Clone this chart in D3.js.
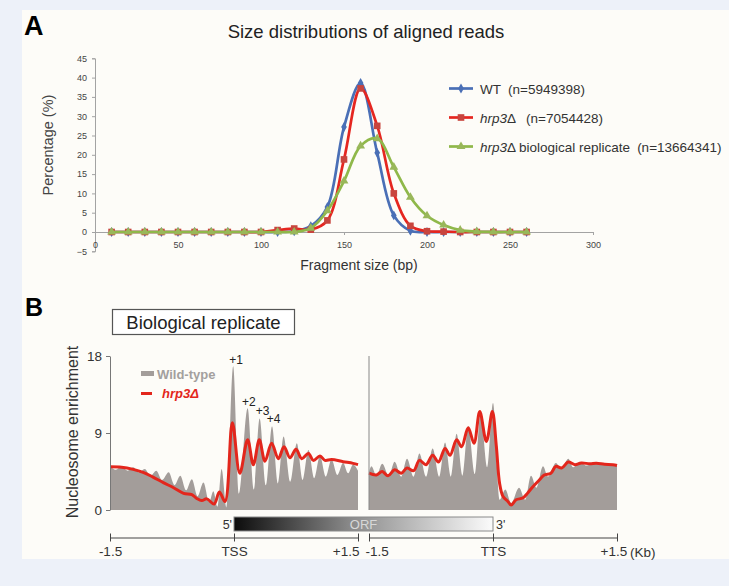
<!DOCTYPE html>
<html>
<head>
<meta charset="utf-8">
<script src="https://cdn.jsdelivr.net/npm/d3@7"></script>
<style>
html, body { margin: 0; padding: 0; background: #edf1f9; }
svg { display: block; font-family: "Liberation Sans", Arial, sans-serif; }
</style>
</head>
<body>
<svg id="fig" width="729" height="586"></svg>
<script>
// ---- panel A: size distributions (10 bp bins) ----
var fragSizes = [10,20,30,40,50,60,70,80,90,100,110,120,130,140,150,160,170,180,190,200,210,220,230,240,250,260];
var wtPct  = [0,0,0,0,0,0,0,0,0,0,0,0.2,1.5,6.5,27.2,38.6,20.5,4.3,0.3,0,0,0,0,0,0,0];
var hrpPct = [0,0,0,0,0,0,0,0,0,0,0.5,0.9,0.6,3.0,18.8,37.2,27.5,10.0,1.6,0.2,0.1,0,0,0,0,0];
var repPct = [0,0,0,0,0,0,0,0,0,0,0,0,1.0,5.5,13.2,22.3,24.2,16.8,9.0,4.2,1.8,0.5,0.1,0,0,0];
var seriesNames  = ['WT', 'hrp3', 'hrp3'];
var seriesSuffix = ['', '\u0394', '\u0394 biological replicate'];
var seriesCounts = ['(n=5949398)', '(n=7054428)', '(n=13664341)'];
var xTicksA = [0,50,100,150,200,250,300];
var yTicksA = [-5,0,5,10,15,20,25,30,35,40,45];

// ---- panel B: nucleosome profiles, kb around TSS / TTS ----
var wtTssKb  = [-1.5,-1.43,-1.36,-1.29,-1.22,-1.15,-1.08,-1.01,-0.94,-0.87,-0.79,-0.72,-0.65,-0.58,-0.51,-0.44,-0.37,-0.3,-0.25,-0.2,-0.15,-0.09,-0.01,0.06,0.165,0.24,0.31,0.385,0.46,0.53,0.6,0.68,0.76,0.83,0.9,0.97,1.04,1.11,1.18,1.25,1.32,1.38,1.44,1.5];
var wtTssVal = [5.1,4.7,5.1,4.6,5.0,4.4,4.8,4.0,4.6,3.5,4.4,2.9,4.0,2.3,3.6,1.6,3.2,0.9,2.2,0.4,4.8,0.3,16.8,1.9,11.9,2.4,10.7,2.9,9.8,3.1,8.6,3.3,7.8,3.5,7.0,3.7,6.3,3.9,5.9,4.1,5.5,4.3,5.3,4.6];
var mutTssKb  = [-1.5,-1.36,-1.22,-1.1,-0.98,-0.855,-0.73,-0.61,-0.51,-0.45,-0.39,-0.33,-0.24,-0.177,-0.109,-0.02,0.07,0.165,0.234,0.306,0.375,0.455,0.536,0.605,0.677,0.75,0.82,0.9,0.96,1.04,1.1,1.18,1.32,1.44,1.5];
var mutTssVal = [5.05,5.0,4.75,4.4,3.85,3.2,2.6,1.95,1.8,1.35,1.1,1.3,0.7,2.1,1.0,10.2,4.3,8.2,5.3,8.2,5.7,7.8,6.0,7.4,6.1,7.1,6.0,6.6,5.8,6.3,5.8,5.9,5.65,5.45,5.3];
var wtTtsKb  = [-1.5,-1.47,-1.41,-1.34,-1.26,-1.19,-1.11,-1.04,-0.96,-0.89,-0.81,-0.73,-0.65,-0.58,-0.51,-0.44,-0.37,-0.3,-0.22,-0.15,-0.07,0,0.08,0.15,0.22,0.315,0.39,0.46,0.525,0.605,0.665,0.76,0.83,0.91,0.97,1.05,1.13,1.21,1.29,1.37,1.44,1.5];
var wtTtsVal = [4.4,5.1,4.0,5.4,4.0,5.65,3.9,6.0,3.9,6.6,3.9,7.2,3.9,7.9,3.9,8.9,4.0,9.8,4.2,11.4,5.0,12.5,1.2,2.4,0.8,2.6,1.2,4.0,2.6,5.1,3.9,5.5,4.8,6.0,5.0,5.65,5.2,5.5,5.3,5.5,5.3,5.2];
var mutTtsKb  = [-1.5,-1.41,-1.34,-1.27,-1.19,-1.11,-1.04,-0.96,-0.89,-0.81,-0.73,-0.66,-0.58,-0.52,-0.44,-0.38,-0.3,-0.23,-0.16,-0.08,-0.008,0.04,0.08,0.12,0.18,0.22,0.28,0.36,0.42,0.48,0.56,0.62,0.7,0.76,0.83,0.91,0.99,1.07,1.17,1.25,1.35,1.45,1.5];
var mutTtsVal = [4.3,4.1,4.5,4.0,4.7,4.3,4.9,4.6,5.8,5.3,6.4,5.6,7.2,6.4,8.2,7.4,9.6,7.8,11.5,8.0,11.5,7.5,3.1,1.6,1.0,0.58,1.2,1.4,2.0,2.7,3.5,4.1,4.3,5.1,4.9,5.6,5.3,5.5,5.4,5.45,5.35,5.3,5.2];
var peakLabels = ['+1','+2','+3','+4'];
var peakKb     = [0.024,0.18,0.345,0.48];
var peakVal    = [17.06,12.15,11.1,10.17];
var yTicksB = [0,9,18];
var kbTicks = [-1.5,0,1.5];
var tssTickLabels = ['-1.5','TSS','+1.5'];
var ttsTickLabels = ['-1.5','TTS','+1.5'];

var svg = d3.select('#fig');
svg.append('rect').attr('width',729).attr('height',586).attr('fill','#edf1f9');
svg.append('rect').attr('x',22).attr('y',10).attr('width',707).attr('height',549).attr('fill','#fdfcf8');

// ================= panel A =================
var xA = d3.scaleLinear().domain([0,300]).range([95,593]);
var yA = d3.scaleLinear().domain([-5,45]).range([251.3,58.3]);

svg.append('text').attr('x',24).attr('y',35).attr('font-size',27).attr('font-weight','bold').text('A');
svg.append('text').attr('x',366).attr('y',38).attr('text-anchor','middle').attr('font-size',18.5).attr('fill','#222')
  .text('Size distributions of aligned reads');

var gy = svg.append('g').attr('transform','translate(' + xA(0) + ',0)')
  .call(d3.axisLeft(yA).tickValues(yTicksA).tickSize(3).tickPadding(5));
var gx = svg.append('g').attr('transform','translate(0,' + yA(0) + ')')
  .call(d3.axisBottom(xA).tickValues(xTicksA).tickSize(3).tickPadding(7));
[gy, gx].forEach(function (g) {
  g.selectAll('path,line').attr('stroke','#a3a3a3');
  g.selectAll('text').attr('fill','#444').attr('font-size',9).attr('font-family','"Liberation Sans", Arial, sans-serif');
});

svg.append('text').attr('transform','translate(53,145) rotate(-90)').attr('text-anchor','middle')
  .attr('font-size',14.5).attr('fill','#444').text('Percentage (%)');
svg.append('text').attr('x',359).attr('y',270).attr('text-anchor','middle')
  .attr('font-size',14).attr('fill','#333').text('Fragment size (bp)');

var seriesA = [
  { vals: wtPct,  line: '#4a6fb6', mark: '#4a6fb6', sym: d3.symbolDiamond,  size: 28 },
  { vals: hrpPct, line: '#e52620', mark: '#c8453e', sym: d3.symbolSquare,   size: 44 },
  { vals: repPct, line: '#8fb84a', mark: '#99b75a', sym: d3.symbolTriangle, size: 34 }
];
var lineA = d3.line().x(function (d) { return xA(d[0]); }).y(function (d) { return yA(d[1]); })
  .curve(d3.curveCatmullRom.alpha(0.5));

seriesA.forEach(function (s) {
  var pts = fragSizes.map(function (f, i) { return [f, s.vals[i]]; });
  svg.append('path').datum(pts).attr('d',lineA).attr('fill','none')
    .attr('stroke',s.line).attr('stroke-width',2.7);
  svg.append('g').selectAll('path').data(pts).join('path')
    .attr('transform', function (d) { return 'translate(' + xA(d[0]) + ',' + yA(d[1]) + ')'; })
    .attr('d', d3.symbol().type(s.sym).size(s.size))
    .attr('fill', s.mark);
});

// legend A
seriesA.forEach(function (s, i) {
  var ly = 88.5 + i * 29;
  svg.append('line').attr('x1',449).attr('x2',473).attr('y1',ly).attr('y2',ly)
    .attr('stroke',s.line).attr('stroke-width',2.7);
  svg.append('path').attr('transform','translate(461,' + ly + ')')
    .attr('d', d3.symbol().type(s.sym).size(s.size)).attr('fill', s.mark);
  var t = svg.append('text').attr('x',480).attr('y',ly + 5).attr('font-size',13.5).attr('fill','#333');
  t.append('tspan').attr('font-style', i === 0 ? 'normal' : 'italic').text(seriesNames[i]);
  t.append('tspan').text(seriesSuffix[i]);
  t.append('tspan').attr('dx', i === 1 ? 10 : 7).text(seriesCounts[i]);
});

// ================= panel B =================
var yB = d3.scaleLinear().domain([0,18]).range([510,356]);
var xL = d3.scaleLinear().domain([-1.5,1.5]).range([110,358]);
var xR = d3.scaleLinear().domain([-1.5,1.5]).range([369,617]);

svg.append('text').attr('x',25).attr('y',316).attr('font-size',25).attr('font-weight','bold').text('B');
svg.append('rect').attr('x',112.5).attr('y',309.5).attr('width',182).attr('height',25)
  .attr('fill','#fff').attr('stroke','#555').attr('stroke-width',1.2);
svg.append('text').attr('x',203.5).attr('y',329).attr('text-anchor','middle').attr('font-size',18.5)
  .attr('fill','#222').text('Biological replicate');

function drawProfile(xs, wtKb, wtVal, mutKb, mutVal) {
  var area = d3.area().x(function (d) { return xs(d[0]); })
    .y0(yB(0)).y1(function (d) { return yB(d[1]); }).curve(d3.curveMonotoneX);
  var line = d3.line().x(function (d) { return xs(d[0]); })
    .y(function (d) { return yB(d[1]); }).curve(d3.curveCatmullRom.alpha(0.5));
  svg.append('path').datum(wtKb.map(function (k, i) { return [k, wtVal[i]]; }))
    .attr('d', area).attr('fill','#a39d9a');
  svg.append('path').datum(mutKb.map(function (k, i) { return [k, mutVal[i]]; }))
    .attr('d', line).attr('fill','none').attr('stroke','#e3261c').attr('stroke-width',3)
    .attr('stroke-linejoin','round');
}
drawProfile(xL, wtTssKb, wtTssVal, mutTssKb, mutTssVal);
drawProfile(xR, wtTtsKb, wtTtsVal, mutTtsKb, mutTtsVal);

// y axis B
var gyB = svg.append('g').attr('transform','translate(' + xL(-1.5) + ',0)')
  .call(d3.axisLeft(yB).tickValues(yTicksB).tickSize(4).tickSizeOuter(0).tickPadding(4));
gyB.selectAll('path,line').attr('stroke','#777');
gyB.selectAll('text').attr('font-size',13.5).attr('fill','#333').attr('font-family','"Liberation Sans", Arial, sans-serif');
svg.append('line').attr('x1',xR(-1.5)).attr('x2',xR(-1.5)).attr('y1',yB(18)).attr('y2',yB(0))
  .attr('stroke','#888').attr('stroke-width',1);
svg.append('text').attr('transform','translate(78,432) rotate(-90)').attr('text-anchor','middle')
  .attr('font-size',16).attr('fill','#333').text('Nucleosome enrichment');

// legend B
svg.append('rect').attr('x',141).attr('y',371).attr('width',13).attr('height',5).attr('fill','#a39d9a');
svg.append('text').attr('x',157).attr('y',379).attr('font-size',13).attr('font-weight','bold')
  .attr('fill','#a3a09e').text('Wild-type');
svg.append('line').attr('x1',141).attr('x2',152).attr('y1',393.5).attr('y2',393.5)
  .attr('stroke','#e3261c').attr('stroke-width',3);
svg.append('text').attr('x',162).attr('y',398).attr('font-size',13).attr('font-weight','bold')
  .attr('font-style','italic').attr('fill','#e3261c').text('hrp3\u0394');

// nucleosome labels
svg.append('g').selectAll('text').data(peakLabels).join('text')
  .attr('x', function (d, i) { return xL(peakKb[i]); })
  .attr('y', function (d, i) { return yB(peakVal[i]); })
  .attr('text-anchor','middle').attr('font-size',12).attr('fill','#222')
  .text(function (d) { return d; });

// ORF bar
var grad = svg.append('defs').append('linearGradient').attr('id','orf');
grad.append('stop').attr('offset','0%').attr('stop-color','#0c0c0c');
grad.append('stop').attr('offset','45%').attr('stop-color','#8a8a8a');
grad.append('stop').attr('offset','100%').attr('stop-color','#fbfbfb');
svg.append('rect').attr('x',xL(0)).attr('y',517).attr('width',xR(0) - xL(0)).attr('height',14)
  .attr('fill','url(#orf)').attr('stroke','#8a8a8a').attr('stroke-width',1);
svg.append('text').attr('x',(xL(0) + xR(0)) / 2).attr('y',528.5).attr('text-anchor','middle')
  .attr('font-size',13).attr('fill','#d8d8d8').text('ORF');
svg.append('text').attr('x',xL(0) - 2).attr('y',528.5).attr('text-anchor','end')
  .attr('font-size',12.5).attr('fill','#333').text("5'");
svg.append('text').attr('x',xR(0) + 3).attr('y',528.5)
  .attr('font-size',12.5).attr('fill','#333').text("3'");

// kb axes
function kbAxis(xs, labels, anchors, shifts) {
  var g = svg.append('g').attr('transform','translate(0,537.5)')
    .call(d3.axisBottom(xs).tickValues(kbTicks).tickSize(4).tickSizeOuter(0).tickPadding(5)
      .tickFormat(function (d, i) { return labels[i]; }));
  g.select('.domain').attr('stroke','#444');
  g.selectAll('.tick line').attr('y1',-4).attr('y2',4).attr('stroke','#444');
  g.selectAll('.tick text').attr('font-size',13.5).attr('fill','#333')
    .attr('font-family','"Liberation Sans", Arial, sans-serif')
    .attr('text-anchor', function (d, i) { return anchors[i]; })
    .attr('dx', function (d, i) { return shifts[i]; });
  return g;
}
kbAxis(xL, tssTickLabels, ['middle','middle','end'], [0,0,1]);
kbAxis(xR, ttsTickLabels, ['start','middle','start'], [-4,0,-17]);
svg.append('text').attr('x',xR(1.5) + 13).attr('y',557).attr('font-size',13.5).attr('fill','#333').text('(Kb)');
</script>
</body>
</html>
